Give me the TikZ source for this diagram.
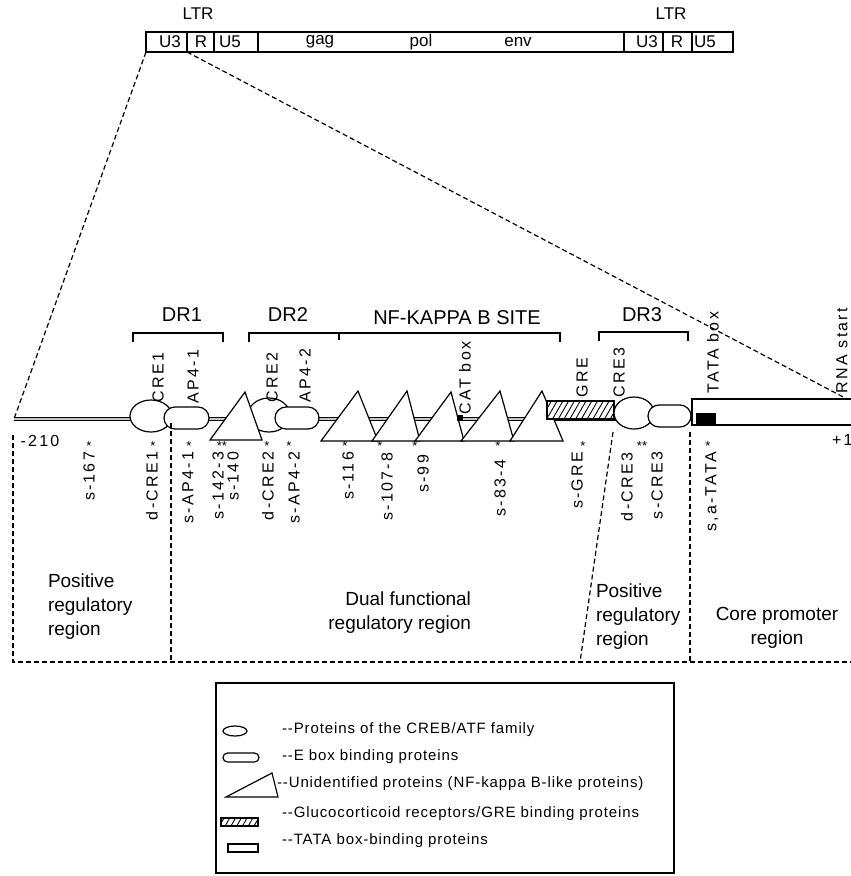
\documentclass[tikz,border=0pt]{standalone}
\usepackage{fontspec}
\setmainfont{Liberation Sans}
\newfontfamily\spaced[LetterSpace=14]{Liberation Sans}
\newfontfamily\legfont[LetterSpace=6]{Liberation Sans}
\usetikzlibrary{patterns.meta}
\begin{document}
\begin{tikzpicture}[x=1pt,y=-1pt,line width=1.1pt,
  every node/.style={inner sep=0pt,outer sep=0pt},
  barlab/.style={font=\fontsize{17}{17}\selectfont},
  head/.style={font=\fontsize{20}{20}\selectfont},
  uplab/.style={font=\spaced\fontsize{16}{16}\selectfont,rotate=90,anchor=west},
  downlab/.style={font=\spaced\fontsize{16}{16}\selectfont,rotate=90,anchor=east},
  starlab/.style={font=\fontsize{13}{13}\selectfont},
  regiontxt/.style={font=\fontsize{19}{24}\selectfont},
  leg/.style={font=\legfont\fontsize{15}{15}\selectfont,anchor=west},
  dsh/.style={dash pattern=on 5pt off 3pt,line width=1.2pt},
  shp/.style={draw,fill=white,line width=1.2pt},
  hatch/.style={pattern={Lines[angle=60,distance=5pt,line width=0.9pt]}},
]
\useasboundingbox (0,0) rectangle (851,876);
\fill[white] (0,0) rectangle (851,876);

% ---------- top provirus bar ----------
\draw (146,32) rectangle (733,52);
\foreach \xx in {187,214,258,624,663,692} \draw (\xx,32) -- (\xx,52);
\node[barlab] (ltrL) at (198,14) {LTR};
\node[barlab] (ltrR) at (671,14) {LTR};
\node[barlab] (u3a) at (170,42) {U3};
\node[barlab] (ra) at (201,42) {R};
\node[barlab] (u5a) at (230,42) {U5};
\node[barlab] (gag) at (320,42) {gag};
\node[barlab] (pol) at (421,42) {pol};
\node[barlab] (env) at (518,42) {env};
\node[barlab] (u3b) at (647,42) {U3};
\node[barlab] (rb) at (677,42) {R};
\node[barlab] (u5b) at (705,42) {U5};

\coordinate (barL) at (146,52);
\coordinate (barR) at (187,52);
\coordinate (dnaL) at (14,419);
\coordinate (rnaS) at (847,399);
\draw[dsh] (barL) -- (dnaL);
\draw[dsh] (barR) -- (rnaS);

% ---------- headings & brackets ----------
\node[head] (dr1) at (182,315) {DR1};
\node[head] (dr2) at (288,315) {DR2};
\node[head] (nfk) at (457,318) {NF-KAPPA B SITE};
\node[head] (dr3) at (642,315) {DR3};
\draw (133,342) -- (133,333) -- (223,333) -- (223,342);
\draw (249,342) -- (249,333) -- (560,333) -- (560,342);
\draw (339,333) -- (339,340);
\draw (599,341) -- (599,332) -- (688,332) -- (688,341);

% ---------- DNA line ----------
\coordinate (dnaR) at (692,419);
\draw[double=gray!45,double distance=2pt,line width=1pt] (dnaL) -- (dnaR);

% ---------- binding elements ----------
\draw[shp] (151,416) ellipse [x radius=21,y radius=16];
\draw[shp,rounded corners=11] (164,407) rectangle (209,429);
\draw[shp] (269,415) ellipse [x radius=21,y radius=17];
\draw[shp,rounded corners=11] (275,407) rectangle (319,429);
\draw[shp] (210,440) -- (245,392) -- (262,440) -- cycle;
\draw[shp] (321,441) -- (358,391) -- (378,441) -- cycle;
\draw[shp] (372,441) -- (407,391) -- (420,441) -- cycle;
\draw[shp] (415,441) -- (451,392) -- (464,441) -- cycle;
\draw[shp] (461,441) -- (500,391) -- (514,441) -- cycle;
\draw[shp] (510,441) -- (542,391) -- (563,441) -- cycle;
\fill[black] (457,415) rectangle (463,421);
\fill[white] (547,401) rectangle (614,419);
\fill[hatch] (547,401) rectangle (614,419);
\draw[line width=1.3pt] (547,401) rectangle (614,419);
\draw[shp] (634,413) ellipse [x radius=20,y radius=16];
\draw[shp,rounded corners=11] (648,405) rectangle (691,427);
\draw[shp] (860,399) -- (692,399) -- (692,425) -- (860,425);
\fill[black] (696,413) rectangle (716,425);

% ---------- upper labels ----------
\node[uplab] (lcre1) at (158,402) {CRE1};
\node[uplab] (lap41) at (193,403) {AP4-1};
\node[uplab] (lcre2) at (272,402) {CRE2};
\node[uplab] (lap42) at (305,402) {AP4-2};
\node[uplab] (lcat) at (465,414) {CAT box};
\node[uplab] (lgre) at (582,397) {GRE};
\node[uplab] (lcre3) at (619,397) {CRE3};
\node[uplab] (ltata) at (713,393) {TATA box};
\node[uplab] (lrna) at (842,393) {RNA start};

% ---------- positions ----------
\node[font=\spaced\fontsize{16}{16}\selectfont] (m210) at (40,441) {-210};
\node[font=\spaced\fontsize{16}{16}\selectfont,anchor=west] (p1) at (832,440) {+1};

\node[downlab] (s167) at (89,452) {s-167};
\node[downlab] (dcre1) at (152,452) {d-CRE1};
\node[downlab] (sap41) at (188,452) {s-AP4-1};
\node[downlab] (s1423) at (218,452) {s-142-3};
\node[downlab] (s140) at (233,452) {s-140};
\node[downlab] (dcre2) at (268,452) {d-CRE2};
\node[downlab] (sap42) at (294,452) {s-AP4-2};
\node[downlab] (s116) at (348,452) {s-116};
\node[downlab] (s1078) at (387,453) {s-107-8};
\node[downlab] (s99) at (423,455) {s-99};
\node[downlab] (s834) at (500,460) {s-83-4};
\node[downlab] (sgre) at (577,452) {s-GRE};
\node[downlab] (dcre3) at (627,453) {d-CRE3};
\node[downlab] (scre3) at (657,452) {s-CRE3};
\node[downlab] (stata) at (712,452) {s,a-TATA};

\foreach \xx/\nm in {89/a,153/b,189/c,267/d,289/e,345/f,380/g,415/h,498/i,583/j,708/k}
  \node[starlab] (st\nm) at (\xx,446) {*};
\node[starlab] (stl) at (222,446) {**};
\node[starlab] (stm) at (642,446) {**};

% ---------- region dividers ----------
\coordinate (v0t) at (13,435); \coordinate (v0b) at (13,662);
\coordinate (v1t) at (171,423); \coordinate (v1b) at (171,662);
\coordinate (v2t) at (613,432); \coordinate (v2b) at (580,662);
\coordinate (v3t) at (690,432); \coordinate (v3b) at (690,662);
\coordinate (hR) at (851,662);
\draw[dsh] (v0t) -- (v0b) -- (hR);
\draw[dsh] (v1t) -- (v1b);
\draw[dsh] (v2t) -- (v2b);
\draw[dsh] (v3t) -- (v3b);

\node[regiontxt,align=left,anchor=north west] (rg1) at (48,574) {Positive\\regulatory\\region};
\node[regiontxt,align=right,anchor=north east] (rg2) at (471,592) {Dual functional\\regulatory region};
\node[regiontxt,align=left,anchor=north west] (rg3) at (596,584) {Positive\\regulatory\\region};
\node[regiontxt,align=center,anchor=north] (rg4) at (777,607) {Core promoter\\region};

% ---------- legend ----------
\draw[line width=1.2pt] (216,683) rectangle (674,873);
\draw[shp] (235,731) ellipse [x radius=12,y radius=5];
\draw[shp,rounded corners=4.5] (223,753) rectangle (259,762);
\draw[shp] (226,797) -- (272,773) -- (278,797) -- cycle;
\fill[hatch] (221,818) rectangle (258,826);
\draw[line width=1.1pt] (221,818) rectangle (258,826);
\draw[shp] (228,844) rectangle (258,852);
\node[leg] (lg1) at (282,730) {--Proteins of the CREB/ATF family};
\node[leg] (lg2) at (282,757) {--E box binding proteins};
\node[leg] (lg3) at (277,784) {--Unidentified proteins (NF-kappa B-like proteins)};
\node[leg] (lg4) at (282,814) {--Glucocorticoid receptors/GRE binding proteins};
\node[leg] (lg5) at (282,841) {--TATA box-binding proteins};
\end{tikzpicture}
\end{document}
